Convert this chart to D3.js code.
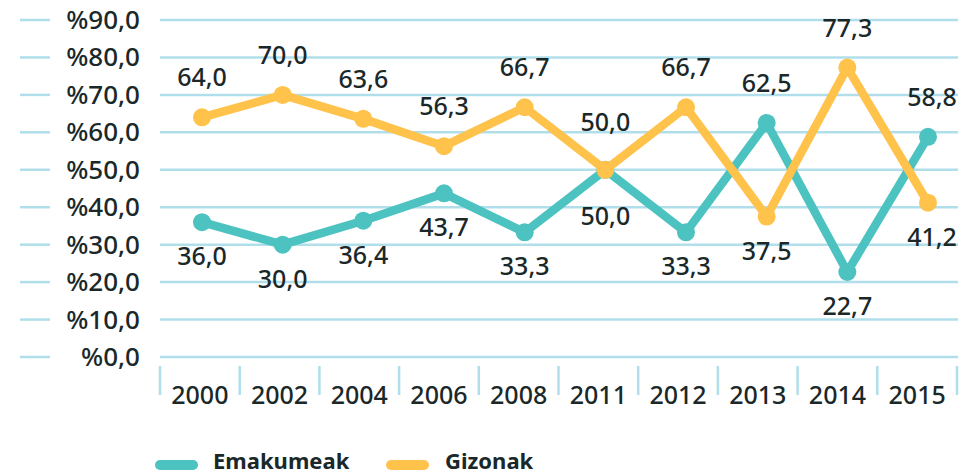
<!DOCTYPE html>
<html>
<head>
<meta charset="utf-8">
<script src="https://cdn.jsdelivr.net/npm/d3@7"></script>
<style>
  html, body { margin: 0; padding: 0; background: #fff; }
  svg { display: block; }
  text { font-family: "Noto Sans", sans-serif; fill: #1a2829; font-weight: 500; }
  text.legend-label { font-weight: 700; }
</style>
</head>
<body>
<svg id="chart" width="978" height="475"></svg>
<script>
// Data
const years = ["2000", "2002", "2004", "2006", "2008", "2011", "2012", "2013", "2014", "2015"];
const emakumeak = [36.0, 30.0, 36.4, 43.7, 33.3, 50.0, 33.3, 62.5, 22.7, 58.8];
const gizonak = [64.0, 70.0, 63.6, 56.3, 66.7, 50.0, 66.7, 37.5, 77.3, 41.2];
const yTicks = [0, 10, 20, 30, 40, 50, 60, 70, 80, 90];
const seriesNames = ["Emakumeak", "Gizonak"];
const seriesColors = ["#4cc3c0", "#ffc24b"];

const svg = d3.select("#chart");
const gridColor = "#b0dfeb";
const fmt = v => v.toFixed(1).replace(".", ",");

const y = d3.scaleLinear().domain([0, 90]).range([357, 20]);
const xBand = d3.scaleBand().domain(years).range([160, 957]);
const x = d3.scalePoint().domain(years).range([202, 928]);

// Horizontal gridlines with short stubs on the left
const grid = svg.append("g");
grid.selectAll("line.g").data(yTicks).join("line")
  .attr("x1", 160).attr("x2", 958)
  .attr("y1", d => y(d)).attr("y2", d => y(d))
  .attr("stroke", gridColor).attr("stroke-width", 2.5);
grid.selectAll("line.s").data(yTicks).join("line")
  .attr("x1", 20).attr("x2", 50)
  .attr("y1", d => y(d)).attr("y2", d => y(d))
  .attr("stroke", gridColor).attr("stroke-width", 2.5);

// Y axis labels
svg.append("g").selectAll("text").data(yTicks).join("text")
  .attr("x", 140).attr("y", d => y(d) + 9)
  .attr("text-anchor", "end")
  .attr("font-size", 26)
  .text(d => "%" + fmt(d));

// Category separators and labels
const xAxis = svg.append("g");
const seps = years.map(d => xBand(d)).concat([xBand.range()[1]]);
xAxis.selectAll("line").data(seps).join("line")
  .attr("x1", d => d).attr("x2", d => d)
  .attr("y1", 366).attr("y2", 395)
  .attr("stroke", gridColor).attr("stroke-width", 2.5);
xAxis.selectAll("text").data(years).join("text")
  .attr("x", d => xBand(d) + xBand.bandwidth() / 2)
  .attr("y", 404)
  .attr("text-anchor", "middle")
  .attr("font-size", 25)
  .text(d => d);

// Lines and markers
const series = [emakumeak, gizonak];
const line = d3.line().x((d, i) => x(years[i])).y(d => y(d));
series.forEach((vals, si) => {
  const g = svg.append("g");
  g.append("path").datum(vals)
    .attr("d", line)
    .attr("fill", "none")
    .attr("stroke", seriesColors[si])
    .attr("stroke-width", 8.5)
    .attr("stroke-linejoin", "round");
  g.selectAll("circle").data(vals).join("circle")
    .attr("cx", (d, i) => x(years[i]))
    .attr("cy", d => y(d))
    .attr("r", 9)
    .attr("fill", seriesColors[si]);
});

// Value labels: the higher value of each year above its point, the lower below
const labels = svg.append("g");
years.forEach((yr, i) => {
  const a = emakumeak[i], b = gizonak[i];
  const tie = a === b;
  [[a, a > b], [b, b >= a]].forEach(([v, above], k) => {
    let isAbove = above;
    if (tie) isAbove = k === 1;
    const dy = isAbove ? (tie ? -39 : -31) : (tie ? 55 : 43);
    labels.append("text")
      .attr("x", x(yr) + (i === years.length - 1 ? 4 : 0))
      .attr("y", y(v) + dy)
      .attr("text-anchor", "middle")
      .attr("font-size", 25)
      .text(fmt(v));
  });
});

// Legend
const legend = svg.append("g");
const legendItems = [
  { x1: 160, x2: 193, tx: 213 },
  { x1: 391, x2: 424, tx: 445 }
];
legendItems.forEach((it, i) => {
  legend.append("line")
    .attr("x1", it.x1).attr("x2", it.x2)
    .attr("y1", 465).attr("y2", 465)
    .attr("stroke", seriesColors[i]).attr("stroke-width", 10)
    .attr("stroke-linecap", "round");
  legend.append("text")
    .attr("class", "legend-label")
    .attr("x", it.tx).attr("y", 469)
    .attr("font-size", 22)
    .text(seriesNames[i]);
});
</script>
</body>
</html>
